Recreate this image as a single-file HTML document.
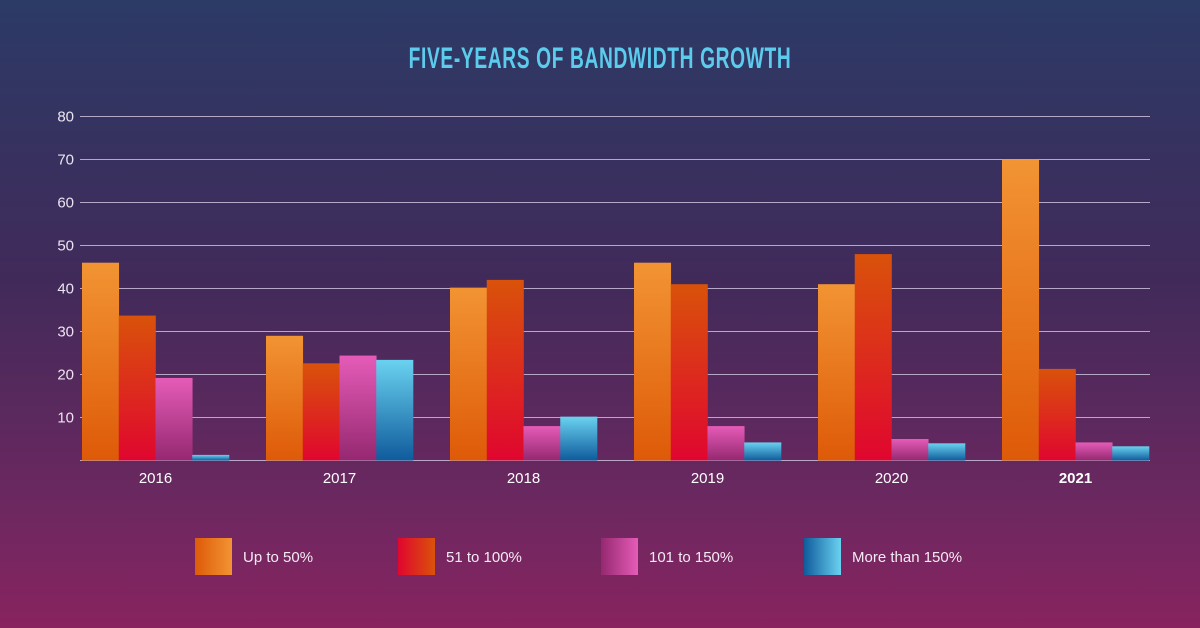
<!DOCTYPE html>
<html><head><meta charset="utf-8"><style>
html,body{margin:0;padding:0}
body{width:1200px;height:628px;overflow:hidden;background:linear-gradient(180deg,#2c3a66 0%,#412a5a 45%,#6c2860 80%,#88235f 100%);font-family:"Liberation Sans",sans-serif}
svg{display:block}
</style></head><body>
<svg width="1200" height="628">
<defs>
<linearGradient id="g0" x1="0" y1="0" x2="0" y2="1"><stop offset="0" stop-color="#f29433"/><stop offset="1" stop-color="#de5a08"/></linearGradient>
<linearGradient id="g1" x1="0" y1="0" x2="0" y2="1"><stop offset="0" stop-color="#d9520a"/><stop offset="1" stop-color="#e0062f"/></linearGradient>
<linearGradient id="g2" x1="0" y1="0" x2="0" y2="1"><stop offset="0" stop-color="#e55cb8"/><stop offset="1" stop-color="#952870"/></linearGradient>
<linearGradient id="g3" x1="0" y1="0" x2="0" y2="1"><stop offset="0" stop-color="#6ad2f0"/><stop offset="1" stop-color="#0f5b9c"/></linearGradient>
<linearGradient id="l0" x1="0" y1="0" x2="1" y2="0"><stop offset="0" stop-color="#de5a08"/><stop offset="1" stop-color="#f29433"/></linearGradient>
<linearGradient id="l1" x1="0" y1="0" x2="1" y2="0"><stop offset="0" stop-color="#e0062f"/><stop offset="1" stop-color="#d9520a"/></linearGradient>
<linearGradient id="l2" x1="0" y1="0" x2="1" y2="0"><stop offset="0" stop-color="#952870"/><stop offset="1" stop-color="#e55cb8"/></linearGradient>
<linearGradient id="l3" x1="0" y1="0" x2="1" y2="0"><stop offset="0" stop-color="#0f5b9c"/><stop offset="1" stop-color="#6ad2f0"/></linearGradient>
</defs>
<text x="600" y="68" text-anchor="middle" fill="#5ccbec" font-size="30" font-weight="bold" letter-spacing="1" transform="translate(600,0) scale(0.64,1) translate(-600,0)">FIVE-YEARS OF BANDWIDTH GROWTH</text>
<g id="grid"></g><g id="bars"></g><g id="labels"></g><g id="legend"></g>
</svg>
<script>
const categories=["2016","2017","2018","2019","2020","2021"];
const seriesNames=["Up to 50%","51 to 100%","101 to 150%","More than 150%"];
const upTo50=[46,29,40.2,46,41,70];
const s51to100=[33.7,22.6,42,41,48,21.3];
const s101to150=[19.2,24.4,8,8,5,4.2];
const over150=[1.3,23.4,10.2,4.2,4,3.3];
const yTicks=[10,20,30,40,50,60,70,80];
const series=[upTo50,s51to100,s101to150,over150];
const NS="http://www.w3.org/2000/svg";
const y0=460.5,pxPer=4.3,x0=82,groupW=184,barW=36.75;
const yS=v=>y0-v*pxPer;
const xS=(i,s)=>x0+i*groupW+s*barW;
function mk(t,a,p){const e=document.createElementNS(NS,t);for(const k in a)e.setAttribute(k,a[k]);p.appendChild(e);return e;}
const grid=document.getElementById('grid'),bars=document.getElementById('bars'),labels=document.getElementById('labels'),legend=document.getElementById('legend');
let bl=mk('line',{x1:80,x2:1150,y1:y0,y2:y0,stroke:"#b8a8c8","stroke-width":1},grid);


yTicks.forEach(v=>{
 const l=mk('line',{x1:80,x2:1150,y1:yS(v),y2:yS(v),stroke:"#b8a8c8","stroke-width":1},grid);
 
 
 const t=mk('text',{x:74,y:yS(v)+5,"text-anchor":"end",fill:"#ece4f0","font-size":15},labels);
 t.textContent=v;
 
 
});
categories.forEach((c,i)=>{
 series.forEach((arr,s)=>{
  const r=mk('rect',{x:xS(i,s),y:yS(arr[i]),width:barW+0.3,height:arr[i]*pxPer,fill:"url(#g"+s+")"},bars);
  
  
 });
 const t=mk('text',{x:xS(i,2),y:483,"text-anchor":"middle",fill:"#ffffff","font-size":15,"font-weight":i==5?"bold":"normal"},labels);
 t.textContent=c;
 
 
});
const legX=[195,398,601,804];
seriesNames.forEach((n,s)=>{
 const g=mk('g',{},legend);
 
 
 mk('rect',{x:legX[s],y:538,width:37,height:37,fill:"url(#l"+s+")"},g);
 const t=mk('text',{x:legX[s]+48,y:562,fill:"#f4ecf4","font-size":15},g);
 t.textContent=n;
});
</script>
</body></html>
